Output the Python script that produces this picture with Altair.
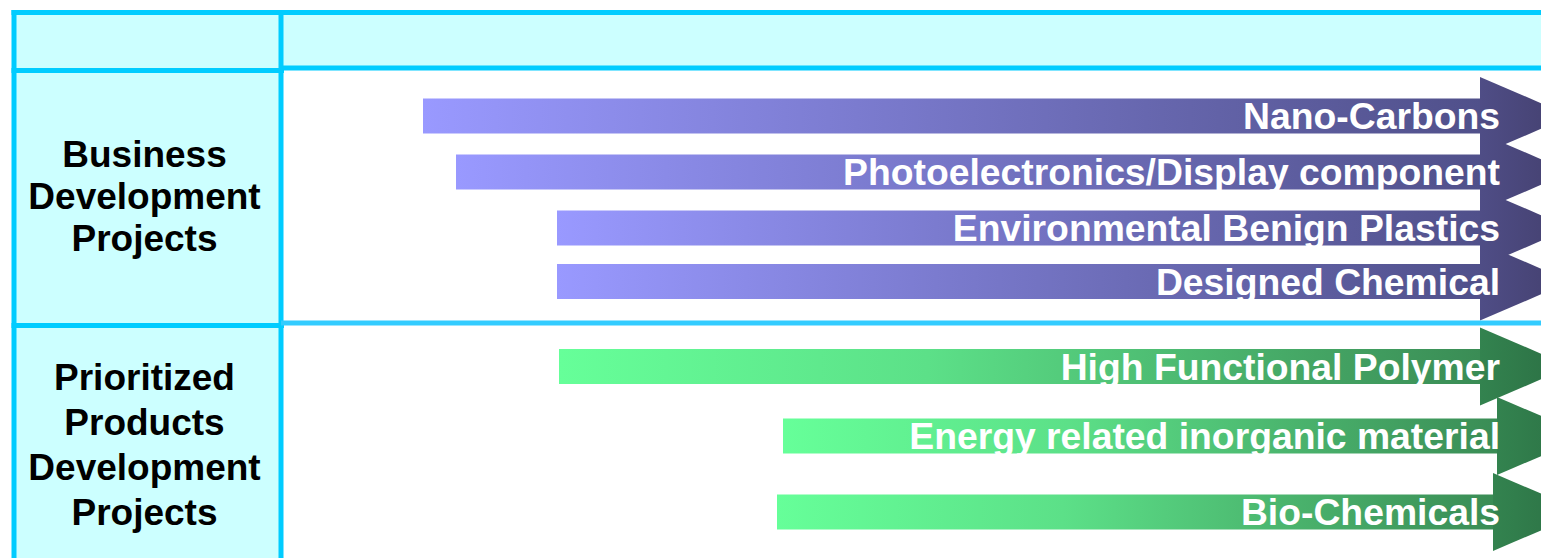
import altair as alt
import pandas as pd

W, H = 1541, 558

# ---- roadmap items -------------------------------------------------------
business_labels = [
    "Nano-Carbons",
    "Photoelectronics/Display component",
    "Environmental Benign Plastics",
    "Designed Chemical",
]
business_start = [423, 456, 557, 557]
business_end = [1480, 1480, 1480, 1480]
business_lane = [116, 172, 228, 281.5]

product_labels = [
    "High Functional Polymer",
    "Energy related inorganic material",
    "Bio-Chemicals",
]
product_start = [559, 783, 777]
product_end = [1480, 1497, 1493]
product_lane = [366.5, 436, 512]

# row headers (one list of lines per row)
row_titles = [
    ["Business", "Development", "Projects"],
    ["Prioritized", "Products", "Development", "Projects"],
]

# ---- table frame --------------------------------------------------------
COL_L, COL_SPLIT, COL_R = 14, 281, 1560
ROW_TOP, ROW_HEAD, ROW_DIV, ROW_BOT = 12.5, 69, 324, 570

BODY_HALF = 17.5      # half thickness of an arrow shaft
HEAD_HALF = 39        # half height of an arrow head
HEAD_LEN = 91         # length of an arrow head
LABEL_RIGHT = 1500    # right edge of the arrow captions

CELL_FILL = "#ccffff"
LINE = "#00ccff"


def X(field):
    return alt.X(f"{field}:Q", scale=alt.Scale(domain=[0, W], nice=False, zero=False), axis=None)


def X2(field):
    return alt.X2(f"{field}:Q")


def Y(field):
    return alt.Y(f"{field}:Q", scale=alt.Scale(domain=[0, H], reverse=True, nice=False, zero=False), axis=None)


def Y2(field):
    return alt.Y2(f"{field}:Q")


def grad(stops):
    return alt.LinearGradient(
        gradient="linear",
        stops=[alt.GradientStop(color=c, offset=o) for o, c in stops],
        x1=0, x2=1, y1=0, y2=0,
    )


# ---- cell backgrounds ---------------------------------------------------
cells = pd.DataFrame({
    "x": [COL_L, COL_SPLIT],
    "x2": [COL_SPLIT, COL_R],
    "y": [ROW_TOP, ROW_TOP],
    "y2": [ROW_BOT, ROW_HEAD],
})
cell_layer = alt.Chart(cells).mark_rect(fill=CELL_FILL, clip=True).encode(
    x=X("x"), x2=X2("x2"), y=Y("y"), y2=Y2("y2")
)

# ---- grid lines ---------------------------------------------------------
rules = pd.DataFrame({
    "x":  [COL_L, COL_SPLIT, COL_L - 2.5, COL_L - 2.5, COL_SPLIT, COL_L - 2.5, COL_SPLIT],
    "x2": [COL_L, COL_SPLIT, COL_R, COL_SPLIT + 3, COL_R, COL_SPLIT + 3, COL_R],
    "y":  [ROW_TOP - 2.5, ROW_TOP - 2.5, ROW_TOP, ROW_HEAD + 1.5, ROW_HEAD - 1, ROW_DIV + 1.5, ROW_DIV - 1],
    "y2": [ROW_BOT, ROW_BOT, ROW_TOP, ROW_HEAD + 1.5, ROW_HEAD - 1, ROW_DIV + 1.5, ROW_DIV - 1],
    "c":  [LINE, LINE, LINE, LINE, LINE, LINE, "#33ccff"],
})
rule_layer = alt.Chart(rules).mark_rule(strokeWidth=5, clip=True).encode(
    x=X("x"), x2=X2("x2"), y=Y("y"), y2=Y2("y2"),
    color=alt.Color("c:N", scale=None),
)


def arrow_layers(labels, start, end, lane, body_stops, head_stops):
    bodies = pd.DataFrame({
        "label": labels,
        "x": start,
        "x2": end,
        "y": [c - BODY_HALF for c in lane],
        "y2": [c + BODY_HALF for c in lane],
    })
    body = alt.Chart(bodies).mark_rect(fill=grad(body_stops), clip=True).encode(
        x=X("x"), x2=X2("x2"), y=Y("y"), y2=Y2("y2"), detail="label:N"
    )

    head_rows = []
    for lab, e, c in zip(labels, end, lane):
        head_rows.append({"label": lab, "x": e, "top": c - HEAD_HALF, "bot": c + HEAD_HALF})
        head_rows.append({"label": lab, "x": e + HEAD_LEN, "top": c, "bot": c})
    heads = pd.DataFrame(head_rows)
    head = alt.Chart(heads).mark_area(
        fill=grad(head_stops), interpolate="linear", orient="vertical", clip=True
    ).encode(
        x=X("x"), y=Y("top"), y2=Y2("bot"), detail="label:N"
    )

    captions = pd.DataFrame({
        "label": labels,
        "x": [LABEL_RIGHT] * len(labels),
        "y": [c + 13 for c in lane],
    })
    text = alt.Chart(captions).mark_text(
        align="right", baseline="alphabetic", font="Liberation Sans",
        fontWeight="bold", fontSize=37.3, color="white",
    ).encode(x=X("x"), y=Y("y"), text="label:N")
    return [body, head, text]


business = arrow_layers(
    business_labels, business_start, business_end, business_lane,
    [(0, "#9999ff"), (1, "#50508a")],
    [(0, "#4f4d86"), (1, "#433f6d")],
)
products = arrow_layers(
    product_labels, product_start, product_end, product_lane,
    [(0, "#66ff99"), (0.4, "#5ce088"), (1, "#3a8c55")],
    [(0, "#33834f"), (1, "#2b6e43")],
)

# ---- row header text ----------------------------------------------------
title_rows = []
centers = [(ROW_HEAD + ROW_DIV) / 2, (ROW_DIV + H) / 2 + 4]
spacing = [42, 45]
for lines, mid, gap in zip(row_titles, centers, spacing):
    n = len(lines)
    for i, line in enumerate(lines):
        cap_mid = mid + (i - (n - 1) / 2) * gap
        title_rows.append({"t": line, "x": (COL_L + COL_SPLIT) / 2 - 3, "y": cap_mid + 12})
titles = pd.DataFrame(title_rows)
title_layer = alt.Chart(titles).mark_text(
    align="center", baseline="alphabetic", font="Liberation Sans",
    fontWeight="bold", fontSize=37, color="black",
).encode(x=X("x"), y=Y("y"), text="t:N")

chart = alt.layer(
    cell_layer,
    business[0], business[1],
    products[0], products[1],
    rule_layer,
    business[2], products[2],
    title_layer,
).properties(
    width=W, height=H, padding=0, autosize=alt.AutoSizeParams(type="none"),
    background="white",
).configure_view(stroke=None)

chart.save("out.html", embed_options={"renderer": "svg", "actions": False})
